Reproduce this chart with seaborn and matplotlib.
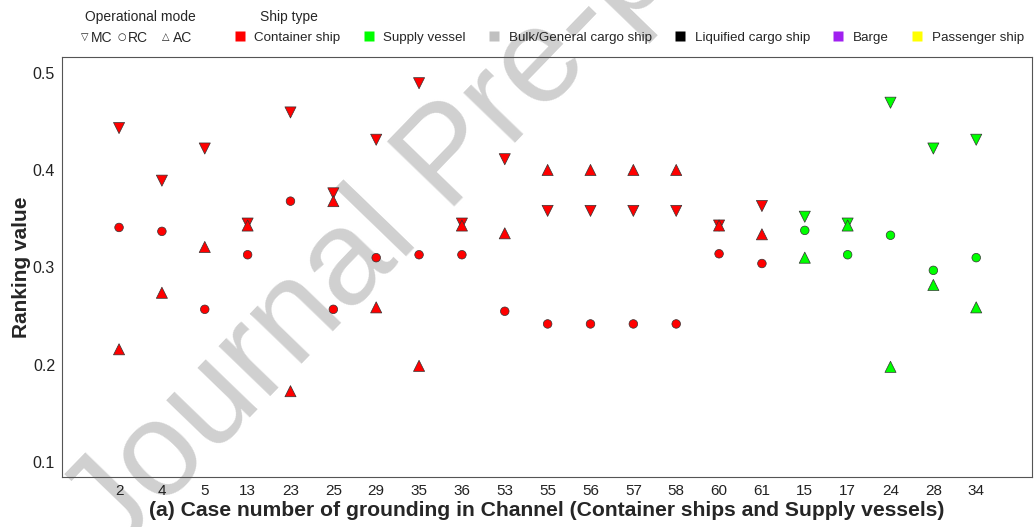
import pandas as pd
import matplotlib
matplotlib.use("Agg")
import matplotlib.pyplot as plt
from matplotlib.lines import Line2D
import seaborn as sns

# data
cases = ['2', '4', '5', '13', '23', '25', '29', '35', '36', '53', '55', '56', '57', '58', '60', '61',
         '15', '17', '24', '28', '34']
ship = ['Container ship'] * 16 + ['Supply vessel'] * 5
mc = [0.443, 0.389, 0.422, 0.345, 0.459, 0.376, 0.431, 0.489, 0.345, 0.411, 0.358, 0.358, 0.358, 0.358,
      0.343, 0.363, 0.352, 0.345, 0.469, 0.422, 0.431]
rc = [0.341, 0.337, 0.257, 0.313, 0.368, 0.257, 0.310, 0.313, 0.313, 0.255, 0.242, 0.242, 0.242, 0.242,
      0.314, 0.304, 0.338, 0.313, 0.333, 0.297, 0.310]
ac = [0.216, 0.274, 0.321, 0.343, 0.173, 0.368, 0.259, 0.199, 0.343, 0.335, 0.400, 0.400, 0.400, 0.400,
      0.343, 0.334, 0.310, 0.343, 0.198, 0.282, 0.259]

ship_types = ['Container ship', 'Supply vessel', 'Bulk/General cargo ship', 'Liquified cargo ship',
              'Barge', 'Passenger ship']
ship_colors = ['#ff0000', '#00ff00', '#c0c0c0', '#000000', '#a020f0', '#ffff00']
yticks = [0.1, 0.2, 0.3, 0.4, 0.5]

# long table
df = pd.concat([
    pd.DataFrame({'case': cases, 'value': mc, 'ship': ship, 'mode': 'MC'}),
    pd.DataFrame({'case': cases, 'value': rc, 'ship': ship, 'mode': 'RC'}),
    pd.DataFrame({'case': cases, 'value': ac, 'ship': ship, 'mode': 'AC'}),
], ignore_index=True)

sns.set_style('white')
plt.rcParams['font.family'] = ['Liberation Sans', 'DejaVu Sans']

fig = plt.figure(figsize=(10.34, 5.27), dpi=100)
ax = fig.add_axes([0.060, 0.095, 0.938, 0.797])
ax.set_facecolor('none')  # let the watermark show through

sns.scatterplot(data=df, x='case', y='value', hue='ship', style='mode', size='mode',
                palette=dict(zip(ship_types, ship_colors)),
                markers={'MC': 'v', 'RC': 'o', 'AC': '^'},
                sizes={'MC': 64, 'RC': 38, 'AC': 64},
                edgecolor='#333333', linewidth=0.5, legend=False, ax=ax, zorder=3)

ax.set_xlim(-1.33, 21.3)
ax.set_ylim(0.085, 0.516)
ax.set_yticks(yticks)
ax.set_yticklabels([f'{v:.1f}' for v in yticks], fontsize=11.5)
ax.set_xticks(range(len(cases)))
ax.set_xticklabels(cases, fontsize=11)
ax.tick_params(direction='in', length=4, width=0.7, color='#555555', labelcolor='#222222', pad=5)
for s in ax.spines.values():
    s.set_color('#555555')
    s.set_linewidth(0.8)

ax.set_xlabel('(a) Case number of grounding in Channel (Container ships and Supply vessels)',
              fontsize=15.2, fontweight='bold', labelpad=2)
ax.set_ylabel('Ranking value', fontsize=15, fontweight='bold', labelpad=1)

# legend: operational mode
fig.text(0.0822, 0.968, 'Operational mode', fontsize=10, va='center', ha='left')
sym_font = ['DejaVu Sans']
for sx, sym, tx, lab in [(0.0822, '▽', 0.0875, 'MC'), (0.1180, '○', 0.1233, 'RC'),
                         (0.1605, '△', 0.1668, 'AC')]:
    fig.text(sx, 0.930, sym, fontsize=7, va='center', ha='center', family=sym_font, color='#222222')
    fig.text(tx, 0.928, lab, fontsize=10, va='center', ha='left')
fig.text(0.2515, 0.968, 'Ship type', fontsize=10, va='center', ha='left')

# legend: ship type
handles = [Line2D([], [], marker='s', linestyle='none', markersize=7, markerfacecolor=c,
                  markeredgecolor='none') for c in ship_colors]
fig.legend(handles, ship_types, loc='center left', bbox_to_anchor=(0.2267, 0.928), ncol=6,
           frameon=False, fontsize=9.6, borderpad=0, borderaxespad=0, handlelength=0.8,
           handletextpad=0.7, columnspacing=1.72)

# watermark, behind everything
fig.text(0.11, -0.06, 'Journal Pre-proof', rotation=46, rotation_mode='anchor', ha='left',
         va='baseline', fontsize=97, color='#d0d0d0', zorder=-1)

fig.savefig('out.png', dpi=100)
